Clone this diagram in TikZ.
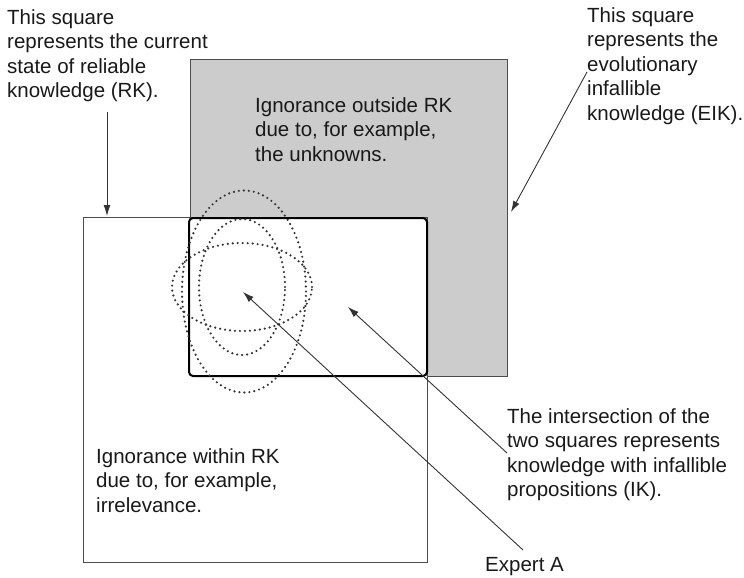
\documentclass[tikz,border=0pt]{standalone}
\usepackage{fontspec}
\setmainfont{Liberation Sans}
\usetikzlibrary{arrows.meta}

\begin{document}
\begin{tikzpicture}[x=1pt,y=-1pt,
  lbl/.style={anchor=north west,inner sep=0pt,align=left,font=\fontsize{20.5}{24.5}\selectfont,text=black!90},
  pointer/.style={draw=black!80,line width=0.9pt,-{Latex[length=11pt,width=7pt]}},
  guess/.style={draw=black!80,line width=2.4pt,line cap=round,dash pattern=on 0pt off 5pt}]
\useasboundingbox (0,0) rectangle (744,578);

% the two squares and their intersection
\path[draw=black!70,fill=black!20,line width=0.8pt] (190,59) rectangle (507,376);
\path[draw=black!70,fill=white,line width=0.8pt] (83,217) rectangle (427,562);
\path[draw,line width=2pt,rounded corners=4pt] (189,218) rectangle (427,376);

% opinions of expert A
\coordinate (expert) at (243,292);
\draw[guess] (244,291.5) ellipse [x radius=62pt,y radius=101pt];
\draw[guess] (242,287) ellipse [x radius=70pt,y radius=44pt];
\draw[guess] (242,287) ellipse [x radius=43pt,y radius=68pt];

\node[lbl] (rktext) at (7,9) {This square\\represents the current\\state of reliable\\knowledge (RK).};
\node[lbl] (eiktext) at (587,7) {This square\\represents the\\evolutionary\\infallible\\knowledge (EIK).};
\node[lbl] (outside) at (255,97) {Ignorance outside RK\\due to, for example,\\the unknowns.};
\node[lbl] (within) at (96,448) {Ignorance within RK\\due to, for example,\\irrelevance.};
\node[lbl] (iktext) at (507,408) {The intersection of the\\two squares represents\\knowledge with infallible\\propositions (IK).};
\node[lbl] (expertA) at (485,557) {Expert A};

\coordinate (rkfoot) at (107,112);
\coordinate (rktip) at (107,216);
\coordinate (eikfoot) at (587,72);
\coordinate (eiktip) at (511,212);
\coordinate (ikfoot) at (507,453);
\coordinate (iktip) at (348,307);
\coordinate (expertfoot) at (523,550);

\path[pointer] (rkfoot) -- (rktip);
\path[pointer] (eikfoot) -- (eiktip);
\path[pointer] (ikfoot) -- (iktip);
\path[pointer] (expertfoot) -- (expert);
\end{tikzpicture}
\end{document}
